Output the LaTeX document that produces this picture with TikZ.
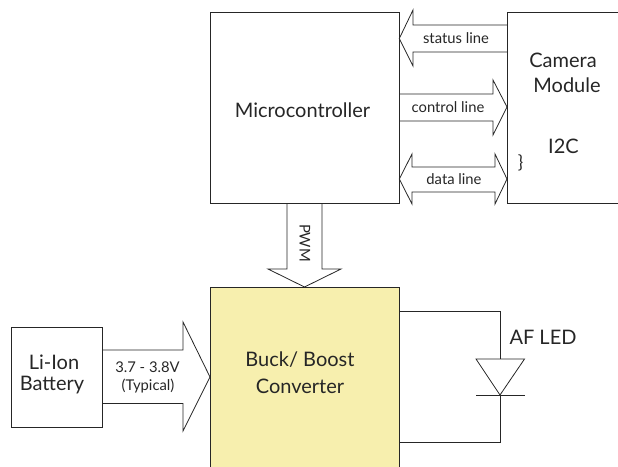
\documentclass[tikz,border=0pt]{standalone}
\usepackage{fontspec}
\usepackage{xcolor}
\setmainfont{Lato}
\usetikzlibrary{calc}
\definecolor{buckfill}{HTML}{F7EFAE}
\colorlet{ink}{black!85}
\tikzset{
  block/.style={draw=ink, anchor=north west, inner sep=0pt},
  bigtext/.style={text=ink, font=\fontsize{20}{22}\selectfont, inner sep=0pt},
  smalltext/.style={text=ink, font=\fontsize{14.8}{17}\selectfont, inner sep=0pt},
}
\begin{document}
\begin{tikzpicture}[x=1pt, y=-1pt, line width=0.8pt, draw=ink, line join=miter]
\clip (0,0) rectangle (618,466);
% blocks
\node[block, minimum width=188.5pt, minimum height=191pt] (micro) at (210,12) {};
\node[block, minimum width=130pt, minimum height=191pt] (camera) at (507,12) {};
\node[block, fill=buckfill, minimum width=188.5pt, minimum height=200pt] (buck) at (210,287) {};
\node[block, minimum width=91pt, minimum height=100.5pt] (battery) at (11,326.5) {};
% status line
\coordinate (S) at (micro.north east |- 0,38.5);
\draw (camera.north west |- 0,25) -- (413,25) -- (413,10) -- (S) -- (413,66) -- (413,52) -- (camera.north west |- 0,52);
% control line
\coordinate (K) at (camera.north west |- 0,107);
\draw (micro.north east |- 0,94) -- (493,94) -- (493,80) -- (K) -- (493,135) -- (493,121) -- (micro.north east |- 0,121);
% data line
\coordinate (D) at (micro.north east |- 0,179);
\coordinate (E) at (camera.north west |- 0,179);
\draw (D) -- (412,154) -- (412,167) -- (495,167) -- (495,154) -- (E) -- (495,204) -- (495,192) -- (412,192) -- (412,204) -- cycle;
% PWM
\coordinate (P) at (304.5,287);
\draw (287,203) -- (287,269) -- (268,269) -- (P) -- (341,269) -- (322,269) -- (322,203);
% battery to converter
\coordinate (T) at (buck.north west |- 0,377);
\draw (battery.north east |- 0,350) -- (183,350) -- (183,322) -- (T) -- (183,431) -- (183,403.5) -- (battery.north east |- 0,403.5);
% LED
\coordinate (L) at (500,359);
\coordinate (M) at (500,395);
\draw (buck.north east |- 0,311) -| (L);
\draw (476,359) -- (524.5,359) -- (M) -- cycle;
\draw (476,395) -- (524.5,395);
\draw (M) |- (buck.north east |- 0,442.5);
% labels
\node[bigtext] (microlabel) at (302.5,110) {Microcontroller};
\node[bigtext] (cameralabel) at (563,60) {Camera};
\node[bigtext] (modulelabel) at (567,85) {Module};
\node[bigtext] (i2clabel) at (563.5,146) {I2C};
\node[smalltext, font=\fontsize{18}{20}\selectfont] (bracelabel) at (520.5,163) {\}};
\node[smalltext] (statuslabel) at (456,38) {status line};
\node[smalltext] (controllabel) at (448,107) {control line};
\node[smalltext] (datalabel) at (454,179) {data line};
\node[smalltext, rotate=-90] (pwmlabel) at (305,243) {PWM};
\node[bigtext] (lilabel) at (54,362) {Li-Ion};
\node[bigtext] (batterylabel) at (52,385) {Battery};
\node[smalltext] (voltlabel) at (147.5,367) {3.7 - 3.8V};
\node[smalltext] (typlabel) at (148,386) {(Typical)};
\node[bigtext] (bucklabel) at (300,360) {Buck/ Boost};
\node[bigtext] (convlabel) at (300,386) {Converter};
\node[bigtext] (ledlabel) at (543,337) {AF LED};
\end{tikzpicture}
\end{document}
